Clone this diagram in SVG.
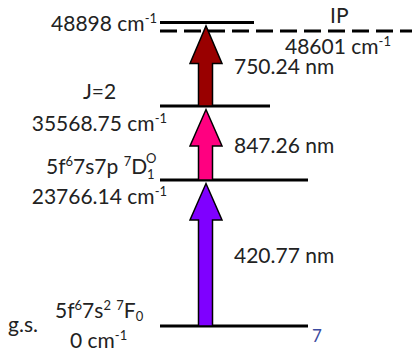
<svg xmlns="http://www.w3.org/2000/svg" width="412" height="351" viewBox="0 0 412 351">
<style>
text{font-family:Lato,"Open Sans","DejaVu Sans",sans-serif;fill:#222}
.e{font-size:21px}
.w{font-size:21px}
.s{font-size:13px}
.lvl{stroke:#000;stroke-width:3;fill:none}
.arr{stroke:#000;stroke-width:1.5;stroke-linejoin:miter}
</style>
<rect width="412" height="351" fill="#fff"/>
<g id="levels">
<line id="lvl-top" class="lvl" x1="160" y1="22.5" x2="254" y2="22.5"/>
<line id="lvl-ip" class="lvl" x1="160" y1="31" x2="412" y2="31" stroke-dasharray="17 7"/>
<line id="lvl-j2" class="lvl" x1="160" y1="106" x2="270" y2="106"/>
<line id="lvl-mid" class="lvl" x1="160" y1="180" x2="308" y2="180"/>
<line id="lvl-gs" class="lvl" x1="160" y1="326" x2="308" y2="326"/>
</g>
<g id="connectors">
<path id="arrow-750" class="arr" fill="#990000" d="M198.5,106 V63.5 H190 L206,26 L222,63.5 H212.5 V106 Z"/>
<path id="arrow-847" class="arr" fill="#ff0080" d="M198.5,180 V146 H190 L206,109.5 L222,146 H212.5 V180 Z"/>
<path id="arrow-420" class="arr" fill="#7f00ff" d="M198.5,326 V220 H190 L206,183.5 L222,220 H212.5 V326 Z"/>
</g>
<g id="labels">
<text class="e" x="157" y="31" text-anchor="end">48898 cm<tspan class="s" dy="-8">-1</tspan></text>
<text x="330" y="22.5" font-size="21">IP</text>
<text class="e" x="285" y="54">48601 cm<tspan class="s" dy="-8">-1</tspan></text>
<text class="w" x="234" y="74">750.24 nm</text>
<text class="e" x="83" y="99">J=2</text>
<text class="e" x="167" y="131" text-anchor="end">35568.75 cm<tspan class="s" dy="-8">-1</tspan></text>
<text class="w" x="234" y="153">847.26 nm</text>
<text class="e" x="46" y="174">5f<tspan class="s" dy="-8">6</tspan><tspan dy="8">7s7p </tspan><tspan class="s" dy="-8">7</tspan><tspan dy="8">D</tspan></text>
<text class="s" x="147" y="179">1</text>
<text class="s" x="146" y="163">O</text>
<text class="e" x="167" y="204" text-anchor="end">23766.14 cm<tspan class="s" dy="-8">-1</tspan></text>
<text class="w" x="234" y="263">420.77 nm</text>
<text class="e" x="8" y="332">g.s.</text>
<text class="e" x="55" y="318">5f<tspan class="s" dy="-8">6</tspan><tspan dy="8">7s</tspan><tspan class="s" dy="-8">2</tspan><tspan dy="8"> </tspan><tspan class="s" dy="-8">7</tspan><tspan dy="8">F</tspan><tspan class="s" dy="3">0</tspan></text>
<text class="e" x="70" y="348">0 cm<tspan class="s" dy="-8">-1</tspan></text>
<text x="312" y="342" font-size="17" style="fill:#3b4ba0">7</text>
</g>
</svg>
